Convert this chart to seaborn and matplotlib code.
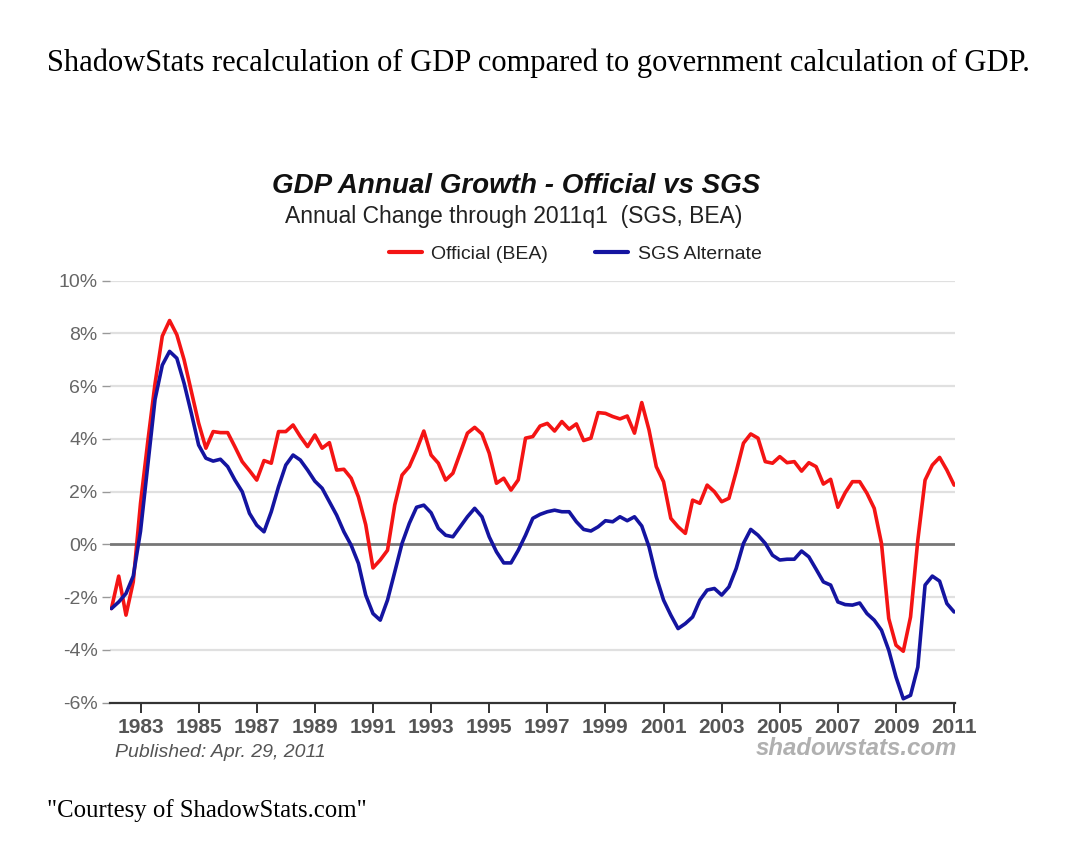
import numpy as np
import pandas as pd
import matplotlib
matplotlib.use("Agg")
import matplotlib.pyplot as plt
import seaborn as sns
from matplotlib.lines import Line2D

# ---- data (annual % change, quarterly, 1982q1 .. 2011q1) ----
start_year = 1982
official = [
    -2.43, -1.20, -2.68, -1.42,
    1.56, 3.90, 6.10, 7.90,
    8.49, 7.95, 7.00, 5.80,
    4.60, 3.65, 4.28, 4.24,
    4.24, 3.70, 3.14, 2.80,
    2.44, 3.18, 3.08, 4.28,
    4.28, 4.53, 4.09, 3.71,
    4.15, 3.65, 3.86, 2.82,
    2.85, 2.51, 1.80, 0.75,
    -0.89, -0.59, -0.22, 1.50,
    2.63, 2.95, 3.58, 4.30,
    3.39, 3.08, 2.44, 2.70,
    3.46, 4.22, 4.44, 4.19,
    3.46, 2.32, 2.51, 2.06,
    2.45, 4.03, 4.09, 4.49,
    4.59, 4.30, 4.66, 4.37,
    4.57, 3.94, 4.03, 5.00,
    4.97, 4.85, 4.76, 4.87,
    4.22, 5.38, 4.34, 2.95,
    2.38, 0.99, 0.67, 0.42,
    1.68, 1.56, 2.25, 2.00,
    1.62, 1.75, 2.76, 3.84,
    4.19, 4.03, 3.14, 3.08,
    3.33, 3.10, 3.14, 2.78,
    3.10, 2.95, 2.29, 2.47,
    1.41, 1.96, 2.38, 2.38,
    1.94, 1.37, 0.04, -2.81,
    -3.82, -4.05, -2.75, 0.16,
    2.44, 3.01, 3.30, 2.82,
    2.25,
]
sgs = [
    -2.43, -2.18, -1.86, -1.20,
    0.50, 3.00, 5.50, 6.80,
    7.32, 7.06, 6.11, 4.97,
    3.77, 3.27, 3.16, 3.23,
    2.95, 2.44, 2.00, 1.18,
    0.73, 0.48, 1.24, 2.19,
    3.01, 3.39, 3.20, 2.82,
    2.40, 2.13, 1.62, 1.11,
    0.48, -0.03, -0.72, -1.92,
    -2.62, -2.87, -2.11, -1.04,
    0.04, 0.80, 1.41, 1.49,
    1.20, 0.61, 0.35, 0.29,
    0.67, 1.05, 1.37, 1.05,
    0.29, -0.28, -0.70, -0.70,
    -0.22, 0.35, 0.99, 1.14,
    1.24, 1.30, 1.24, 1.24,
    0.86, 0.57, 0.51, 0.67,
    0.90, 0.86, 1.05, 0.90,
    1.05, 0.70, -0.09, -1.23,
    -2.11, -2.68, -3.19, -3.00,
    -2.75, -2.11, -1.73, -1.67,
    -1.92, -1.61, -0.91, 0.04,
    0.57, 0.35, 0.04, -0.41,
    -0.59, -0.56, -0.56, -0.25,
    -0.47, -0.94, -1.42, -1.54,
    -2.18, -2.28, -2.30, -2.22,
    -2.62, -2.87, -3.25, -4.01,
    -5.03, -5.85, -5.72, -4.65,
    -1.54, -1.20, -1.39, -2.24,
    -2.56,
]
series_names = ["Official (BEA)", "SGS Alternate"]
year_ticks = list(range(1983, 2012, 2))
y_ticks = [-6, -4, -2, 0, 2, 4, 6, 8, 10]

n = len(official)
t = start_year + np.arange(n) / 4.0
df = pd.concat([
    pd.DataFrame({"t": t, "v": official, "s": series_names[0]}),
    pd.DataFrame({"t": t, "v": sgs, "s": series_names[1]}),
])

RED = "#f41414"
BLUE = "#1414a0"

sns.set_style("white")
plt.rcParams["font.family"] = ["Liberation Sans Narrow", "Liberation Sans", "DejaVu Sans"]

fig = plt.figure(figsize=(10.8, 8.55), dpi=100)
ax = fig.add_axes([110 / 1080, 1 - 702.7 / 855, (955 - 110) / 1080, (702.7 - 280.7) / 855])

for yv in y_ticks:
    if yv == 0:
        ax.axhline(0, color="#777777", lw=2.0, zorder=1)
    elif yv != -6:
        ax.axhline(yv, color="#e0e0e0", lw=1.6, zorder=0)

sns.lineplot(data=df, x="t", y="v", hue="s", palette=[RED, BLUE], linewidth=2.6,
             ax=ax, legend=False, zorder=3)

ax.set_xlim(1981.95, 2011.03)
ax.set_ylim(-6, 10)
ax.set_xlabel("")
ax.set_ylabel("")
for side in ["top", "right", "left"]:
    ax.spines[side].set_visible(False)
ax.spines["bottom"].set_color("#333333")
ax.spines["bottom"].set_linewidth(1.6)

ax.set_xticks(year_ticks)
ax.set_xticklabels([str(y) for y in year_ticks], fontsize=15, color="#555555", fontweight="bold")
ax.tick_params(axis="x", direction="out", length=7, width=1.4, color="#333333", pad=4, bottom=True)
ax.set_yticks(y_ticks)
ax.set_yticklabels([f"{y}%" for y in y_ticks], fontsize=14, color="#666666")
ax.tick_params(axis="y", direction="out", length=6, width=1, color="#999999", pad=3, left=True)

# titles
fig.text(47 / 1080, 1 - 63 / 855,
         "ShadowStats recalculation of GDP compared to government calculation of GDP.",
         family="Liberation Serif", fontsize=22, ha="left", va="center", color="black")
fig.text(516 / 1080, 1 - 186 / 855, "GDP Annual Growth - Official vs SGS",
         fontsize=20, fontweight="bold", style="italic", ha="center", va="center",
         family=["Liberation Sans", "DejaVu Sans"], color="#111111")
fig.text(514 / 1080, 1 - 216 / 855, "Annual Change through 2011q1  (SGS, BEA)",
         fontsize=16.5, ha="center", va="center", color="#222222")

handles = [Line2D([], [], color=RED, lw=3), Line2D([], [], color=BLUE, lw=3)]
fig.legend(handles, series_names, loc="center", bbox_to_anchor=(575 / 1080, 1 - 254 / 855),
           ncol=2, frameon=False, fontsize=14, handlelength=1.7, columnspacing=2.4,
           handletextpad=0.5, labelcolor="#222222")

fig.text(115 / 1080, 1 - 752 / 855, "Published: Apr. 29, 2011", fontsize=14,
         style="italic", color="#555555", ha="left", va="center")
fig.text(957 / 1080, 1 - 748 / 855, "shadowstats.com", fontsize=17.3, fontweight="bold",
         style="italic", color="#b0b0b0", ha="right", va="center",
         family=["Liberation Sans", "DejaVu Sans"])
fig.text(47 / 1080, 1 - 811 / 855, "\"Courtesy of ShadowStats.com\"",
         family="Liberation Serif", fontsize=17.8, ha="left", va="center", color="black")

fig.savefig("out.png", dpi=100, facecolor="white")
